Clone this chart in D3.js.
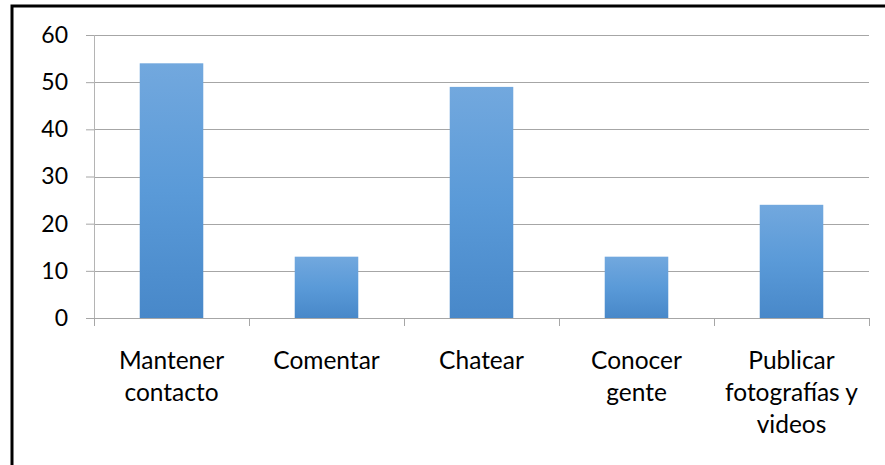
<!DOCTYPE html>
<html>
<head>
<meta charset="utf-8">
<script src="https://cdn.jsdelivr.net/npm/d3@7"></script>
<style>
  body { margin: 0; background: #fff; }
  text { font-family: Lato, "Open Sans", sans-serif; fill: #000; }
</style>
</head>
<body>
<div id="chart"></div>
<script>
// data
var categories = ["Mantener contacto", "Comentar", "Chatear", "Conocer gente", "Publicar fotografías y videos"];
var labelLines = [["Mantener", "contacto"], ["Comentar"], ["Chatear"], ["Conocer", "gente"], ["Publicar", "fotografías y", "videos"]];
var values = [54, 13, 49, 13, 24];
var yTicks = [0, 10, 20, 30, 40, 50, 60];

var svgWidth = 885;
var svgHeight = 465;

var margin = { top: 35, right: 16, bottom: 147, left: 94 };
var width = svgWidth - margin.left - margin.right;
var height = svgHeight - margin.top - margin.bottom;

var svg = d3.select("#chart")
  .append("svg")
  .attr("width", svgWidth)
  .attr("height", svgHeight);

// bar gradient, lighter at top
var grad = svg.append("defs").append("linearGradient")
  .attr("id", "barGrad")
  .attr("x1", 0).attr("y1", 0).attr("x2", 0).attr("y2", 1);
grad.append("stop").attr("offset", "0%").attr("stop-color", "#72a8de");
grad.append("stop").attr("offset", "50%").attr("stop-color", "#5a9ad8");
grad.append("stop").attr("offset", "100%").attr("stop-color", "#4888c9");

// outer frame
svg.append("rect")
  .attr("x", 12).attr("y", 6)
  .attr("width", 900).attr("height", 500)
  .attr("fill", "none")
  .attr("stroke", "#000")
  .attr("stroke-width", 3);

var chartGroup = svg.append("g")
  .attr("transform", `translate(${margin.left}, ${margin.top})`);

var xScale = d3.scaleBand()
  .domain(categories)
  .range([0, width])
  .paddingInner(0.59)
  .paddingOuter(0.295);

var yScale = d3.scaleLinear()
  .domain([0, 60])
  .range([height, 0]);

// gridlines
chartGroup.selectAll(".grid")
  .data(yTicks.filter(d => d > 0))
  .enter()
  .append("line")
  .attr("x1", 0)
  .attr("x2", width)
  .attr("y1", d => Math.round(yScale(d)) + 0.5)
  .attr("y2", d => Math.round(yScale(d)) + 0.5)
  .attr("stroke", "#a6a6a6")
  .attr("stroke-width", 1.2);

// bars
chartGroup.selectAll(".bar")
  .data(values)
  .enter()
  .append("rect")
  .attr("x", (d, i) => xScale(categories[i]))
  .attr("y", d => yScale(d))
  .attr("width", xScale.bandwidth())
  .attr("height", d => height - yScale(d))
  .attr("fill", "url(#barGrad)");

// y axis
var leftAxis = d3.axisLeft(yScale)
  .tickValues(yTicks)
  .tickSize(8)
  .tickPadding(18);
var yAxis = chartGroup.append("g").call(leftAxis);
yAxis.select(".domain").attr("stroke", "#b4b4b4").attr("d", `M0.5,0V${height}`);
yAxis.selectAll(".tick line").attr("stroke", "#a6a6a6");
yAxis.selectAll(".tick text")
  .style("font-size", "23px")
  .style("font-family", "Lato, sans-serif");

// x axis line and category ticks
var xAxisG = chartGroup.append("g")
  .attr("transform", `translate(0, ${height})`);
xAxisG.append("line")
  .attr("x1", 0).attr("x2", width)
  .attr("y1", 0.5).attr("y2", 0.5)
  .attr("stroke", "#a6a6a6");
var step = xScale.step();
xAxisG.selectAll(".xtick")
  .data(d3.range(categories.length + 1))
  .enter()
  .append("line")
  .attr("x1", d => Math.round(d * step) + 0.5)
  .attr("x2", d => Math.round(d * step) + 0.5)
  .attr("y1", 0)
  .attr("y2", 8)
  .attr("stroke", "#a6a6a6");

// category labels, wrapped like the original
var labels = xAxisG.selectAll(".xlabel")
  .data(categories)
  .enter()
  .append("text")
  .attr("text-anchor", "middle")
  .style("font-size", "24.5px")
  .attr("transform", d => `translate(${xScale(d) + xScale.bandwidth() / 2}, 51)`);

labels.each(function(d, i) {
  var t = d3.select(this);
  labelLines[i].forEach(function(line, j) {
    t.append("tspan")
      .attr("x", 0)
      .attr("y", j * 32)
      .text(line);
  });
});
</script>
</body>
</html>
